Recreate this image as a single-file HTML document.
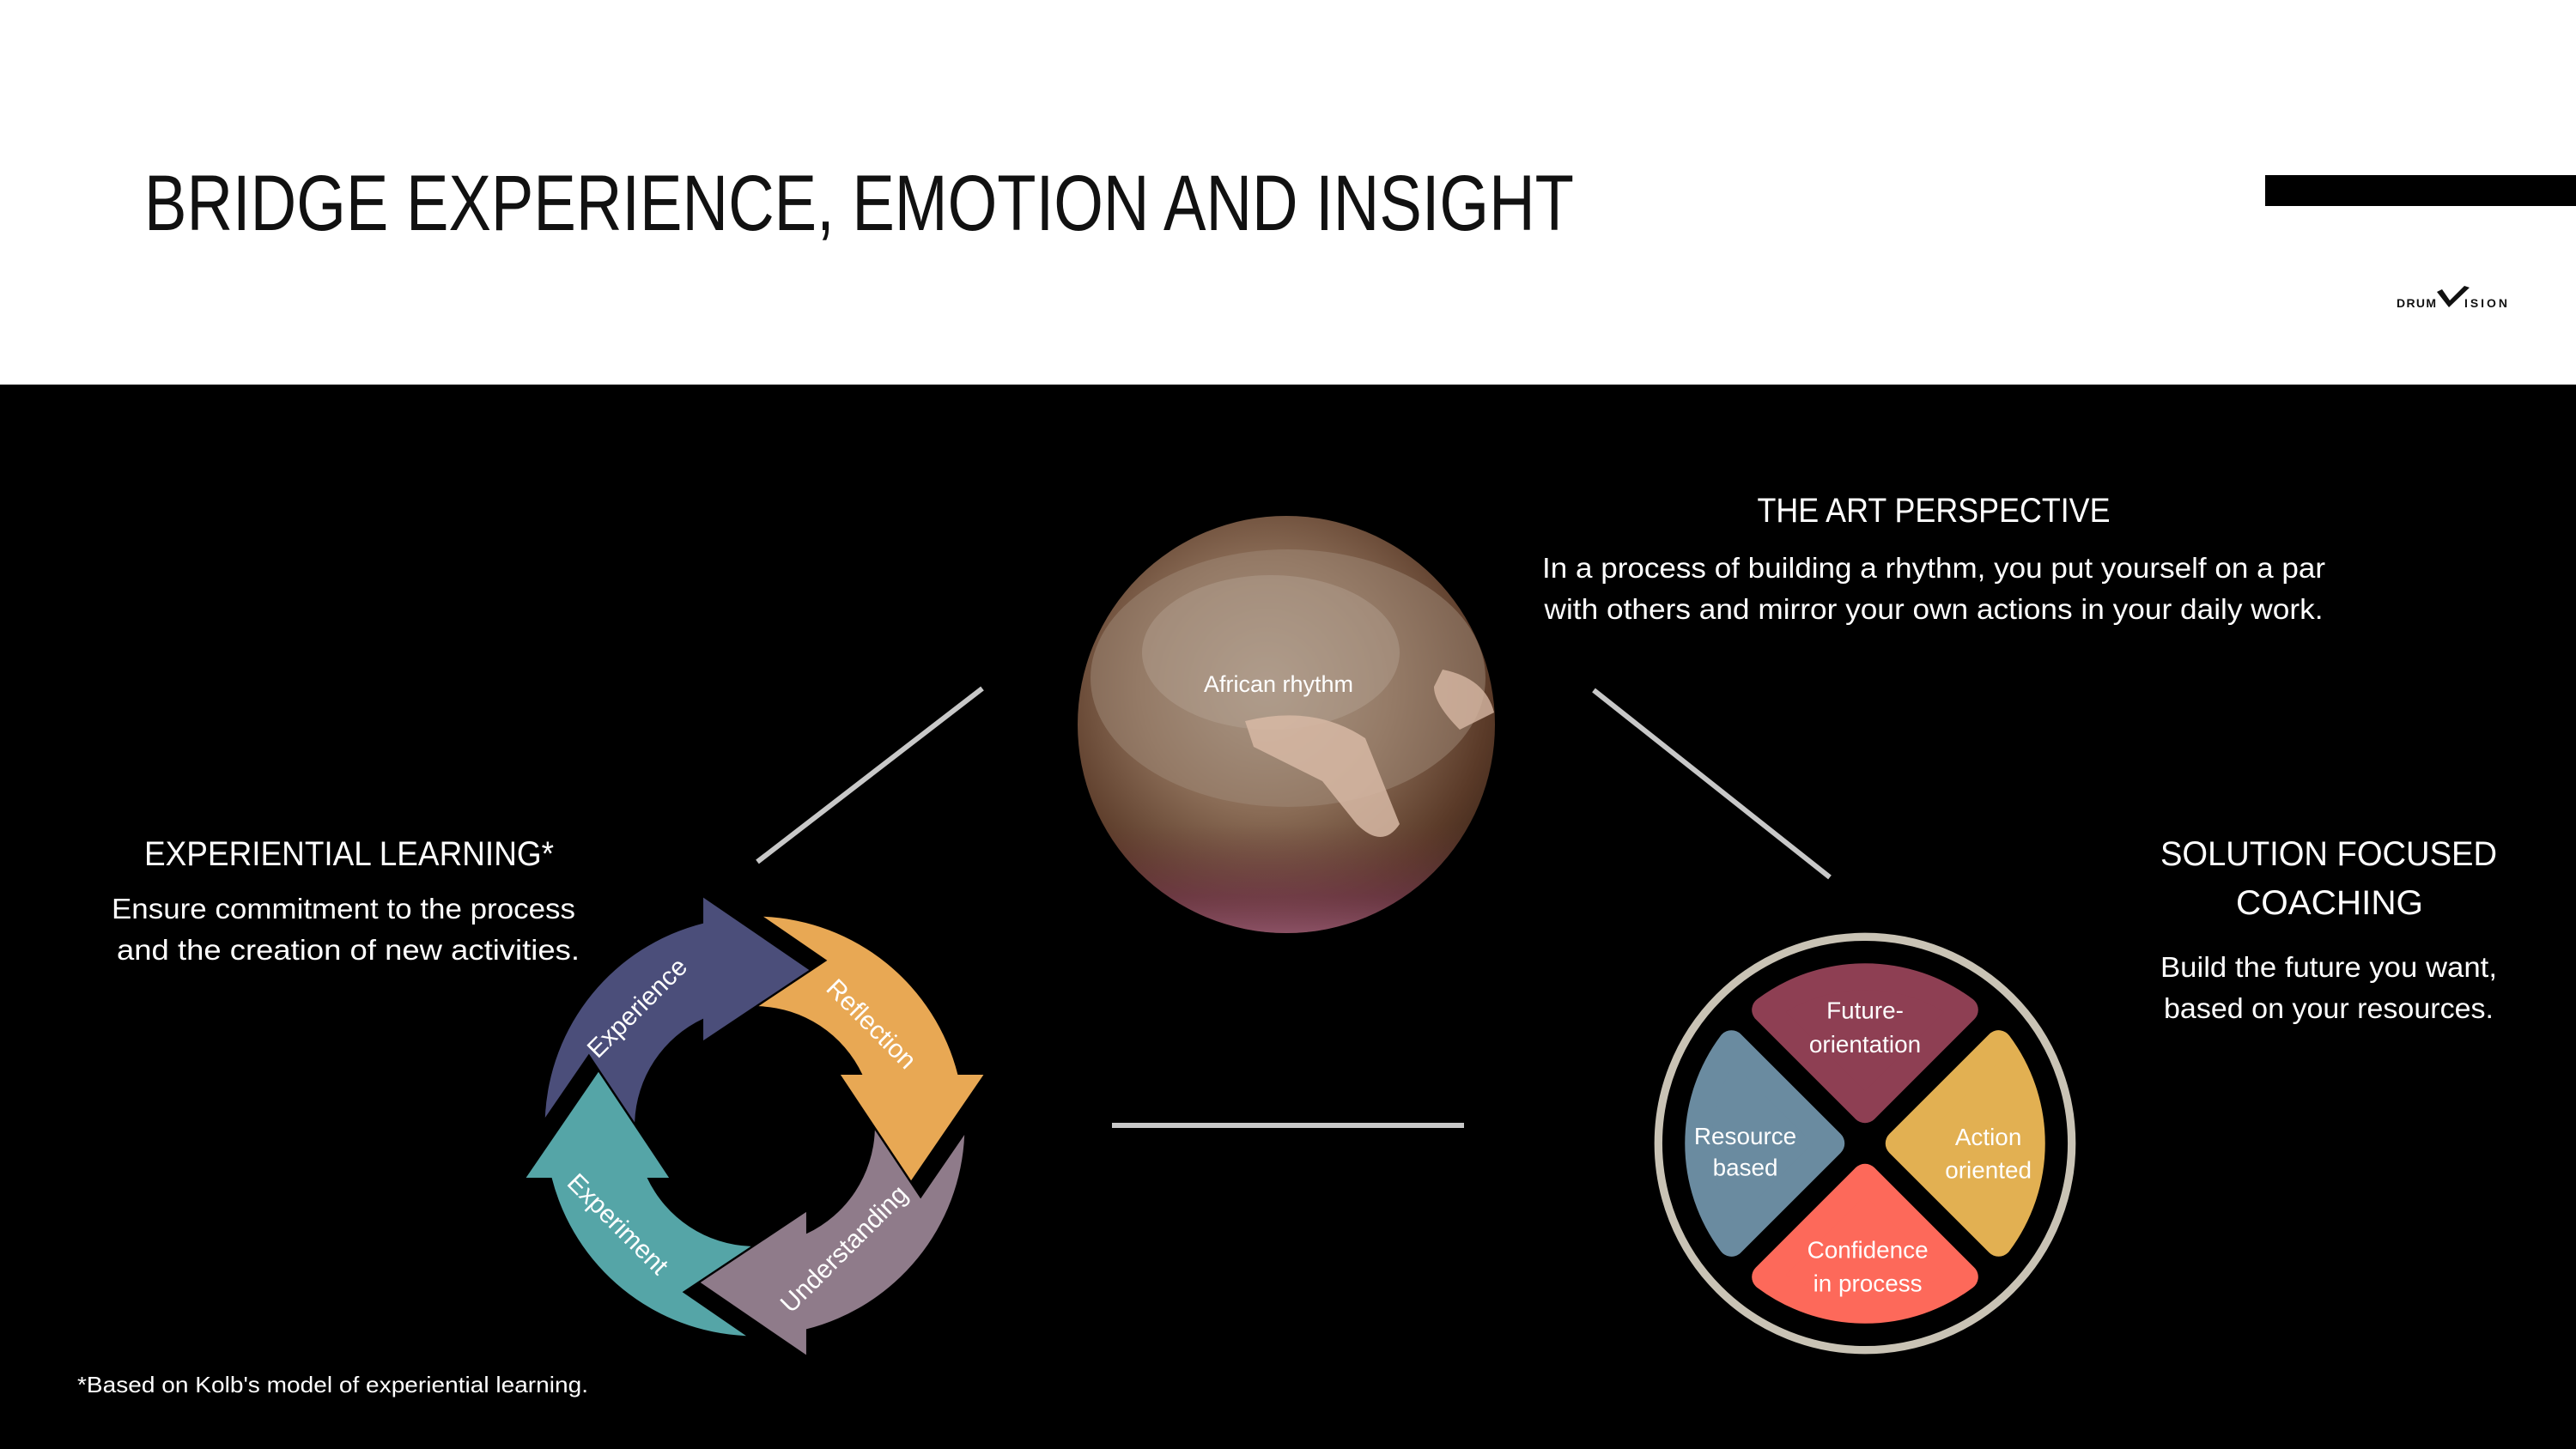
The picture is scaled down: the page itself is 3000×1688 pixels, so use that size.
<!DOCTYPE html>
<html><head><meta charset="utf-8"><style>
html,body{margin:0;padding:0;background:#000;}
svg{display:block;}
text{font-family:"Liberation Sans",sans-serif;fill:#fff;}
</style></head><body>
<svg width="3000" height="1688" viewBox="0 0 3000 1688" xmlns="http://www.w3.org/2000/svg">
<defs>
<radialGradient id="drum" cx="0.45" cy="0.4" r="0.65">
<stop offset="0" stop-color="#b2a08e"/>
<stop offset="0.45" stop-color="#8a6c56"/>
<stop offset="0.8" stop-color="#5a3a28"/>
<stop offset="1" stop-color="#3a2418"/>
</radialGradient>
<linearGradient id="cloth" x1="0" y1="0" x2="0" y2="1">
<stop offset="0" stop-color="#6b3a3a" stop-opacity="0"/>
<stop offset="0.6" stop-color="#7a3a55" stop-opacity="0.6"/>
<stop offset="1" stop-color="#a0607a" stop-opacity="0.9"/>
</linearGradient>
<clipPath id="pc"><circle cx="1498" cy="844" r="243"/></clipPath>
</defs>
<rect x="0" y="0" width="3000" height="448" fill="#fff"/>
<rect x="0" y="448" width="3000" height="1240" fill="#000"/>
<text x="168" y="268" font-size="92" textLength="1665" lengthAdjust="spacingAndGlyphs" style="fill:#111">BRIDGE EXPERIENCE, EMOTION AND INSIGHT</text>
<rect x="2638" y="204" width="362" height="36" fill="#000"/>
<text x="2791" y="358" font-size="14" font-weight="bold" textLength="46" lengthAdjust="spacing" style="fill:#111">DRUM</text>
<polygon points="2838,340 2844,337 2853,350 2870,333 2876,335 2852,358" fill="#111"/>
<text x="2870" y="358" font-size="14" font-weight="bold" textLength="50" lengthAdjust="spacing" style="fill:#111">ISION</text>

<g stroke="#c8c8c8" stroke-width="6">
<line x1="1144" y1="802" x2="882" y2="1004"/>
<line x1="1856" y1="804" x2="2131" y2="1022"/>
<line x1="1295" y1="1311" x2="1705" y2="1311"/>
</g>

<g clip-path="url(#pc)">
<rect x="1250" y="600" width="500" height="500" fill="url(#drum)"/>
<ellipse cx="1500" cy="790" rx="230" ry="150" fill="#a08a78" opacity="0.5"/>
<ellipse cx="1480" cy="760" rx="150" ry="90" fill="#b8a898" opacity="0.4"/>
<rect x="1250" y="960" width="500" height="140" fill="url(#cloth)"/>
<path d="M1450 840 Q1530 820 1590 860 L1630 960 Q1610 990 1580 960 L1540 910 Q1500 890 1460 870 Z" fill="#d7b8a4" opacity="0.85"/>
<path d="M1680 780 Q1730 790 1740 830 L1700 850 Q1670 820 1670 800 Z" fill="#d7b8a4" opacity="0.8"/>
</g>
<text x="1489" y="806" font-size="27" text-anchor="middle">African rhythm</text>

<text x="2252" y="608" font-size="40" text-anchor="middle" textLength="411" lengthAdjust="spacingAndGlyphs">THE ART PERSPECTIVE</text>
<text x="2252" y="673" font-size="33" text-anchor="middle" textLength="912" lengthAdjust="spacingAndGlyphs">In a process of building a rhythm, you put yourself on a par</text>
<text x="2252" y="721" font-size="33" text-anchor="middle" textLength="907" lengthAdjust="spacingAndGlyphs">with others and mirror your own actions in your daily work.</text>

<text x="168" y="1008" font-size="40" textLength="477" lengthAdjust="spacingAndGlyphs">EXPERIENTIAL LEARNING*</text>
<text x="130" y="1070" font-size="33" textLength="540" lengthAdjust="spacingAndGlyphs">Ensure commitment to the process</text>
<text x="136" y="1118" font-size="33" textLength="539" lengthAdjust="spacingAndGlyphs">and the creation of new activities.</text>

<text x="2516" y="1008" font-size="40" textLength="392" lengthAdjust="spacingAndGlyphs">SOLUTION FOCUSED</text>
<text x="2604" y="1065" font-size="40" textLength="218" lengthAdjust="spacingAndGlyphs">COACHING</text>
<text x="2516" y="1138" font-size="33" textLength="392" lengthAdjust="spacingAndGlyphs">Build the future you want,</text>
<text x="2520" y="1186" font-size="33" textLength="384" lengthAdjust="spacingAndGlyphs">based on your resources.</text>

<text x="90" y="1622" font-size="26" textLength="595" lengthAdjust="spacingAndGlyphs">*Based on Kolb's model of experiential learning.</text>

<g transform="translate(879,1312) scale(1.11)">
<path d="M-220,-9 A220 220 0 0 1 -54,-213 L-54,-240 L57,-164 L-54,-90 L-54,-113 A125 125 0 0 0 -126,-4 L-174,-76 Z" fill="#4B4E7A"/>
<path d="M-220,-9 A220 220 0 0 1 -54,-213 L-54,-240 L57,-164 L-54,-90 L-54,-113 A125 125 0 0 0 -126,-4 L-174,-76 Z" fill="#E8A854" transform="rotate(90)"/>
<path d="M-220,-9 A220 220 0 0 1 -54,-213 L-54,-240 L57,-164 L-54,-90 L-54,-113 A125 125 0 0 0 -126,-4 L-174,-76 Z" fill="#8F7B8A" transform="rotate(180)"/>
<path d="M-220,-9 A220 220 0 0 1 -54,-213 L-54,-240 L57,-164 L-54,-90 L-54,-113 A125 125 0 0 0 -126,-4 L-174,-76 Z" fill="#55A5A7" transform="rotate(270)"/>
<g font-size="27" text-anchor="middle" dominant-baseline="middle">
<text transform="translate(-122,-123) rotate(-45)">Experience</text>
<text transform="translate(121,-106) rotate(45)">Reflection</text>
<text transform="translate(95,130) rotate(-45)">Understanding</text>
<text transform="translate(-145,104) rotate(45)">Experiment</text>
</g>
</g>

<g transform="translate(2172,1332) scale(1.033)">
<circle r="233" fill="none" stroke="#C9C3B5" stroke-width="9"/>
<g stroke-width="30" stroke-linejoin="round">
<path d="M0,-38 L112.6,-150.6 A188 188 0 0 0 -112.6,-150.6 Z" fill="#8E3F53" stroke="#8E3F53"/>
<path d="M0,-38 L112.6,-150.6 A188 188 0 0 0 -112.6,-150.6 Z" fill="#E2B052" stroke="#E2B052" transform="rotate(90)"/>
<path d="M0,-38 L112.6,-150.6 A188 188 0 0 0 -112.6,-150.6 Z" fill="#FD695A" stroke="#FD695A" transform="rotate(180)"/>
<path d="M0,-38 L112.6,-150.6 A188 188 0 0 0 -112.6,-150.6 Z" fill="#6A8BA0" stroke="#6A8BA0" transform="rotate(270)"/>
</g>
<g font-size="27" text-anchor="middle" dominant-baseline="middle">
<text x="0" y="-148">Future-</text>
<text x="0" y="-110">orientation</text>
<text x="-135" y="-6">Resource</text>
<text x="-135" y="29">based</text>
<text x="139" y="-5">Action</text>
<text x="139" y="32">oriented</text>
<text x="3" y="122">Confidence</text>
<text x="3" y="160">in process</text>
</g>
</g>
</svg>
</body></html>
